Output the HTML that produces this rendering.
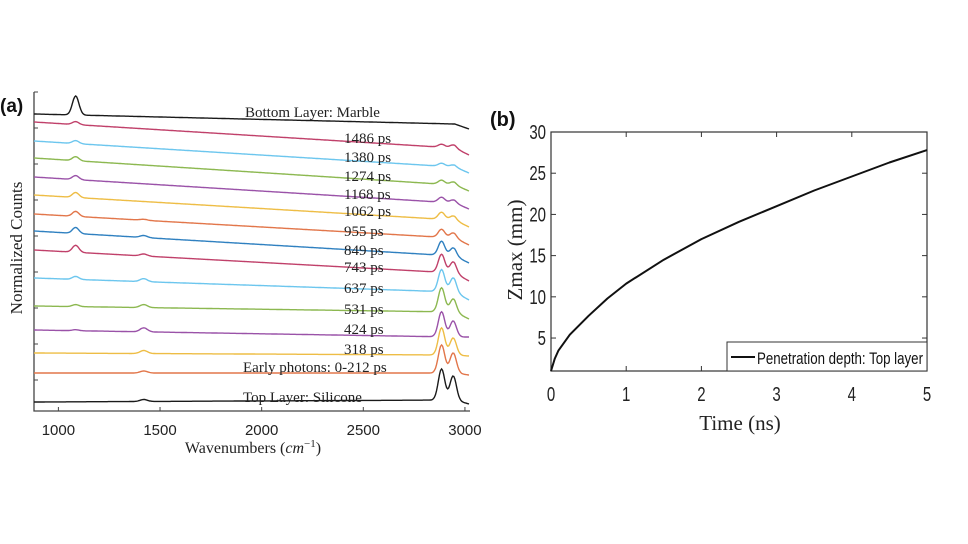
<!DOCTYPE html>
<html><head><meta charset="utf-8"><style>
html,body{margin:0;padding:0;background:#fff;width:968px;height:544px;overflow:hidden}
svg{display:block}
.serif{font-family:"Liberation Serif",serif}
.sans{font-family:"Liberation Sans",sans-serif}
</style></head><body>
<svg id="fig" width="968" height="544" viewBox="0 0 968 544">
<g id="pa"></g>
<g id="pb"></g>
</svg>
<script>
// ---------- Panel (a) data ----------
const seriesLabels = ["Bottom Layer:  Marble","1486 ps","1380 ps","1274 ps","1168 ps","1062 ps","955 ps","849 ps","743 ps","637 ps","531 ps","424 ps","318 ps","Early photons:  0-212 ps","Top Layer:  Silicone"];
const seriesColors = ["#1a1a1a","#c0406a","#6cc6ee","#8cb850","#9a52a8","#eebd45","#e2764a","#2f80c0","#c0406a","#6cc6ee","#8cb850","#9a52a8","#eebd45","#e2764a","#1a1a1a"];
// baseline counts (offset units) at 880, 2950 and 3020 cm-1
const baseLeft  = [297,289,270,253,234,216,197,180,161,133,105,81,58,38,9];
const baseMid   = [287,263,244,226,208,191,173,155,138,119,99,74,56,38,11];
const baseRight = [282,256,238,220,202,184,166,148,130,111,92,74,55,36,7];
// peak amplitudes
const peak1085 = [19,3,3,4,4,5,5,6,7,3,2,1,0,0,0];
const peak1420 = [0,0,0,0,0,0,1,2,2,3,3,4,3,2,2];
const peak2885 = [0,3,3,4,5,7,8,14,18,22,24,25,27,28,31];
const peak2940 = [0,3,2,3,3,4,5,8,11,14,13,16,17,20,24];
const xTicksA = [1000,1500,2000,2500,3000];
const labelYA = [112,138,157,176,194,211,231,250,267,288,309,329,349,367,397];

// ---------- Panel (b) data ----------
const timeNs = [0,0.05,0.1,0.25,0.5,0.75,1,1.5,2,2.5,3,3.5,4,4.5,5];
const zmax   = [1,2.5,3.5,5.4,7.7,9.8,11.6,14.5,17,19.1,21,22.9,24.6,26.3,27.8];
const xTicksB = [0,1,2,3,4,5];
const yTicksB = [5,10,15,20,25,30];

const NS="http://www.w3.org/2000/svg";
function mk(parent,tag,attrs,text){const e=document.createElementNS(NS,tag);for(const k in attrs)e.setAttribute(k,attrs[k]);if(text!==undefined)e.textContent=text;parent.appendChild(e);return e;}

// ---- Panel a ----
const pa=document.getElementById('pa');
const xA=w=>34+(w-880)*(435/2140);
const yA=c=>411-c;
const ax=mk(pa,'path',{d:'M34,92 L34,411 L470,411',fill:'none',stroke:'#444','stroke-width':1.3});


xTicksA.forEach(t=>{
  const tk=mk(pa,'line',{x1:xA(t),x2:xA(t),y1:411,y2:407,stroke:'#444'});
  
  
  const tl=mk(pa,'text',{x:xA(t),y:435,'text-anchor':'middle','font-size':15,class:'sans',fill:'#222'},t);
  
  
});
for(let i=0;i<9;i++){const yy=92+i*36;const t=mk(pa,'line',{x1:34,x2:38,y1:yy,y2:yy,stroke:'#444'});}
const g=(w,c,s)=>Math.exp(-0.5*((w-c)/s)**2);
seriesLabels.forEach((lab,i)=>{
  let d='';
  for(let w=880;w<=3020;w+=5){
    let b;
    if(w<=2950) b=baseLeft[i]+(baseMid[i]-baseLeft[i])*(w-880)/2070;
    else b=baseMid[i]+(baseRight[i]-baseMid[i])*(w-2950)/70;
    const c=b+peak1085[i]*g(w,1085,16)+peak1420[i]*g(w,1420,18)+peak2885[i]*g(w,2885,16)+peak2940[i]*g(w,2942,16);
    d+=(w===880?'M':'L')+xA(w).toFixed(1)+','+yA(c).toFixed(1);
  }
  const p=mk(pa,'path',{d:d,fill:'none',stroke:seriesColors[i],'stroke-width':1.4});
  
  
  const isWide=(i===0||i===13||i===14);
  const tx=mk(pa,'text',{x:isWide?(i===0?245:243):344,y:labelYA[i]+5,'font-size':15,class:'serif',fill:'#222'},lab);
  
  
});
</script>
<svg style="position:absolute;left:0;top:0" width="968" height="544">
<text x="0" y="112" font-size="19" font-weight="bold" class="sans" fill="#111">(a)</text>
<text x="253" y="453" text-anchor="middle" font-size="16" class="serif" fill="#222">Wavenumbers (<tspan font-style="italic">cm</tspan><tspan font-size="11" dy="-6">−1</tspan><tspan dy="6">)</tspan></text>
<text transform="translate(22,248) rotate(-90)" text-anchor="middle" font-size="17" class="serif" fill="#222">Normalized Counts</text>
<text x="490" y="126" font-size="20" font-weight="bold" class="sans" fill="#111">(b)</text>
<text x="740" y="430" text-anchor="middle" font-size="21" class="serif" fill="#222">Time (ns)</text>
<text transform="translate(522,250) rotate(-90)" text-anchor="middle" font-size="21" class="serif" fill="#222">Zmax (mm)</text>
</svg>
<script>
const pb=document.getElementById('pb');
const xB=t=>551+t*(376/5);
const yB=z=>371-(z-1)*(239/29);
const box=mk(pb,'rect',{x:551,y:132,width:376,height:239,fill:'none',stroke:'#333','stroke-width':1.2});


xTicksB.forEach(t=>{
  const a=mk(pb,'line',{x1:xB(t),x2:xB(t),y1:371,y2:366,stroke:'#333'});
  
  
  const b=mk(pb,'line',{x1:xB(t),x2:xB(t),y1:132,y2:137,stroke:'#333'});
  
  
  const l=mk(pb,'text',{x:xB(t),y:401,'text-anchor':'middle','font-size':20,class:'sans',fill:'#222',transform:`translate(${xB(t)*0.25},0) scale(0.75,1)`},t);
  
  
});
yTicksB.forEach(v=>{
  const a=mk(pb,'line',{x1:551,x2:556,y1:yB(v),y2:yB(v),stroke:'#333'});
  
  
  const b=mk(pb,'line',{x1:922,x2:927,y1:yB(v),y2:yB(v),stroke:'#333'});
  
  
  const l=mk(pb,'text',{x:546,y:yB(v)+7,'text-anchor':'end','font-size':20,class:'sans',fill:'#222',transform:`translate(${546*0.25},0) scale(0.75,1)`},v);
  
  
});
let dB='';
timeNs.forEach((t,i)=>{dB+=(i?'L':'M')+xB(t).toFixed(1)+','+yB(zmax[i]).toFixed(1);});
const line=mk(pb,'path',{d:dB,fill:'none',stroke:'#111','stroke-width':2,'stroke-linejoin':'round'});


const lg=mk(pb,'rect',{x:727,y:342,width:200,height:29,fill:'#fff',stroke:'#333','stroke-width':1});


const ll=mk(pb,'line',{x1:731,x2:755,y1:357,y2:357,stroke:'#111','stroke-width':2});


const lt=mk(pb,'text',{x:757,y:364,'font-size':17,class:'sans',fill:'#111',textLength:166,lengthAdjust:'spacingAndGlyphs'},'Penetration depth: Top layer');


</script>
</body></html>
